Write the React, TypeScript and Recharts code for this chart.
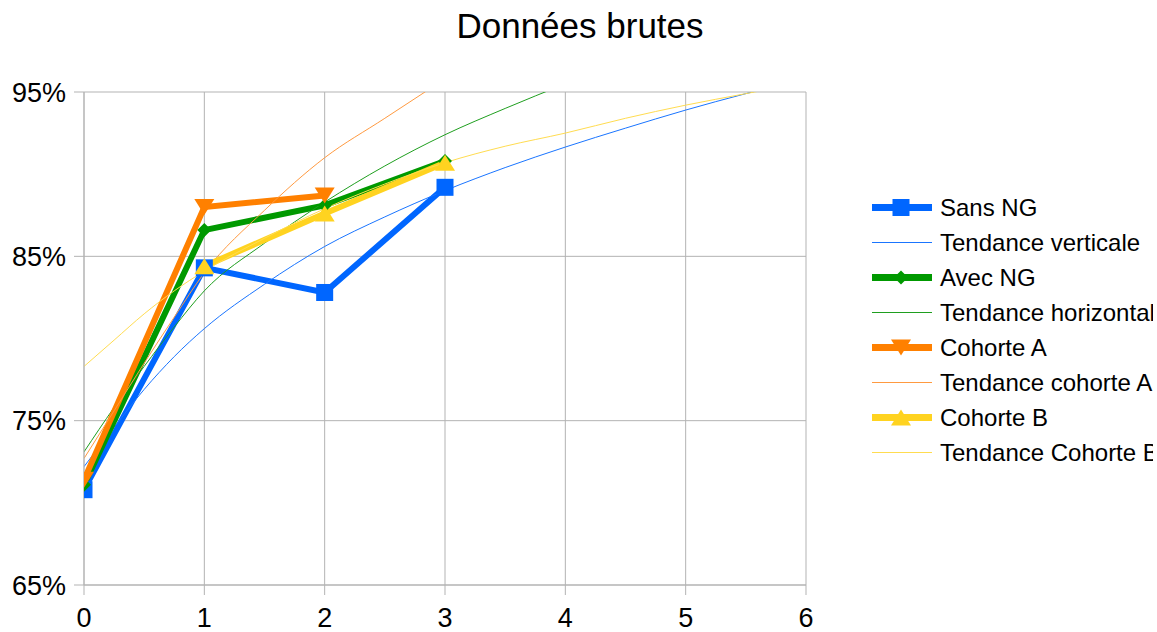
import React from 'react';
import { LineChart, Line, XAxis, YAxis, CartesianGrid } from 'recharts';

// raw points
const xCats = [0, 1, 2, 3];
const sansNG = [70.8, 84.3, 82.8, 89.2];
const avecNG = [71.1, 86.6, 88.1, 90.8];
const cohorteAX = [0, 1, 2];
const cohorteA = [71.4, 88.0, 88.7];
const cohorteBX = [1, 2, 3];
const cohorteB = [84.4, 87.6, 90.7];

// trend curves
const trendX = [0, 0.25, 0.5, 0.75, 1, 1.5, 2, 2.5, 3, 3.5, 4, 4.5, 5, 5.5, 6];
const trendVerticale = [72.2, 74.6, 76.9, 78.9, 80.6, 83.3, 85.6, 87.4, 89.0, 90.4, 91.65, 92.8, 93.9, 94.9, 95.8];
const trendHorizontale = [73.1, 75.8, 78.3, 80.7, 82.9, 85.8, 88.3, 90.5, 92.4, 94.0, 95.5];
const trendCohorteA = [72.7, 75.6, 78.5, 81.3, 84.0, 87.8, 91.0, 93.4, 95.8];
const trendCohorteB = [78.3, 79.9, 81.5, 82.9, 84.1, 86.1, 87.9, 89.4, 90.7, 91.7, 92.5, 93.4, 94.2, 94.9, 95.6];

const xTicks = [0, 1, 2, 3, 4, 5, 6];
const yTicks = [65, 75, 85, 95];

const FONT = '"Liberation Sans", Arial, sans-serif';
const BLUE = '#0066ff';
const GREEN = '#009900';
const ORANGE = '#ff8000';
const YELLOW = '#ffd320';

const pts = (xs: number[], ys: number[]) => ys.map((y, i) => ({ x: xs[i], y }));

type Marker = 'square' | 'diamond' | 'down' | 'up' | 'none';

const drawMarker = (kind: Marker, cx: number, cy: number, color: string, key?: string | number) => {
  if (kind === 'square') return <rect key={key} x={cx - 8.5} y={cy - 8.5} width={17} height={17} fill={color} />;
  if (kind === 'diamond')
    return <polygon key={key} points={`${cx},${cy - 7} ${cx + 7},${cy} ${cx},${cy + 7} ${cx - 7},${cy}`} fill={color} />;
  if (kind === 'down')
    return <polygon key={key} points={`${cx - 10},${cy - 8} ${cx + 10},${cy - 8} ${cx},${cy + 8}`} fill={color} />;
  if (kind === 'up')
    return <polygon key={key} points={`${cx - 10},${cy + 8} ${cx + 10},${cy + 8} ${cx},${cy - 8}`} fill={color} />;
  return <g key={key} />;
};

const dotFor = (kind: Marker, color: string) => (props: any) => {
  const { cx, cy, index } = props;
  if (cx == null || cy == null) return <g key={index} />;
  return drawMarker(kind, cx, cy, color, index);
};

const series = [
  { name: 'Sans NG', data: pts(xCats, sansNG), color: BLUE, width: 6, marker: 'square' as Marker, curve: 'linear' },
  { name: 'Tendance verticale', data: pts(trendX, trendVerticale), color: '#1a75ff', width: 1, marker: 'none' as Marker, curve: 'monotone' },
  { name: 'Avec NG', data: pts(xCats, avecNG), color: GREEN, width: 6, marker: 'diamond' as Marker, curve: 'linear' },
  { name: 'Tendance horizontale', data: pts(trendX, trendHorizontale), color: '#1f9f1f', width: 1, marker: 'none' as Marker, curve: 'monotone' },
  { name: 'Cohorte A', data: pts(cohorteAX, cohorteA), color: ORANGE, width: 6, marker: 'down' as Marker, curve: 'linear' },
  { name: 'Tendance cohorte A', data: pts(trendX, trendCohorteA), color: '#ff9a40', width: 1, marker: 'none' as Marker, curve: 'monotone' },
  { name: 'Cohorte B', data: pts(cohorteBX, cohorteB), color: YELLOW, width: 6, marker: 'up' as Marker, curve: 'linear' },
  { name: 'Tendance Cohorte B', data: pts(trendX, trendCohorteB), color: '#ffdc50', width: 1, marker: 'none' as Marker, curve: 'monotone' },
];

const tickStyle = { fill: '#000', fontSize: 27, fontFamily: FONT };

export default function App() {
  return (
    <div
      style={{
        position: 'fixed',
        left: 0,
        top: 0,
        width: 1157,
        height: 632,
        overflow: 'hidden',
        background: '#fff',
        fontFamily: FONT,
      }}
    >
      <div
        style={{
          position: 'absolute',
          left: 0,
          top: 8,
          width: 1160,
          textAlign: 'center',
          fontSize: 35,
          lineHeight: '35px',
          color: '#000',
        }}
      >
        Données brutes
      </div>

      <LineChart width={1157} height={632} margin={{ top: 92, right: 351, bottom: 0, left: 0 }}>
        <CartesianGrid stroke="#b3b3b3" strokeWidth={1} />
        <XAxis
          type="number"
          dataKey="x"
          domain={[0, 6]}
          ticks={xTicks}
          allowDataOverflow
          height={47}
          tickSize={10}
          tickMargin={13}
          stroke="#b3b3b3"
          tick={tickStyle}
        />
        <YAxis
          type="number"
          dataKey="y"
          domain={[65, 95]}
          ticks={yTicks}
          allowDataOverflow
          width={84}
          tickSize={10}
          tickMargin={8}
          stroke="#b3b3b3"
          tick={tickStyle}
          tickFormatter={(v: number) => `${v}%`}
        />
        {series.map((s) => (
          <Line
            key={s.name}
            name={s.name}
            data={s.data}
            dataKey="y"
            type={s.curve as any}
            stroke={s.color}
            strokeWidth={s.width}
            strokeLinejoin="miter"
            dot={s.marker === 'none' ? false : dotFor(s.marker, s.color)}
            activeDot={false}
            isAnimationActive={false}
          />
        ))}
      </LineChart>

      <div style={{ position: 'absolute', left: 872, top: 190, width: 281, overflow: 'hidden' }}>
        {series.map((s) => (
          <div key={s.name} style={{ display: 'flex', alignItems: 'center', height: 35, whiteSpace: 'nowrap' }}>
            <svg width={60} height={35} style={{ display: 'block', flexShrink: 0 }}>
              <line x1={0} y1={17.5} x2={60} y2={17.5} stroke={s.color} strokeWidth={s.width === 1 ? 1 : 7} />
              {drawMarker(s.marker, 29, 17.5, s.color)}
            </svg>
            <span style={{ marginLeft: 8, fontSize: 24, lineHeight: '35px', color: '#000' }}>{s.name}</span>
          </div>
        ))}
      </div>
    </div>
  );
}
